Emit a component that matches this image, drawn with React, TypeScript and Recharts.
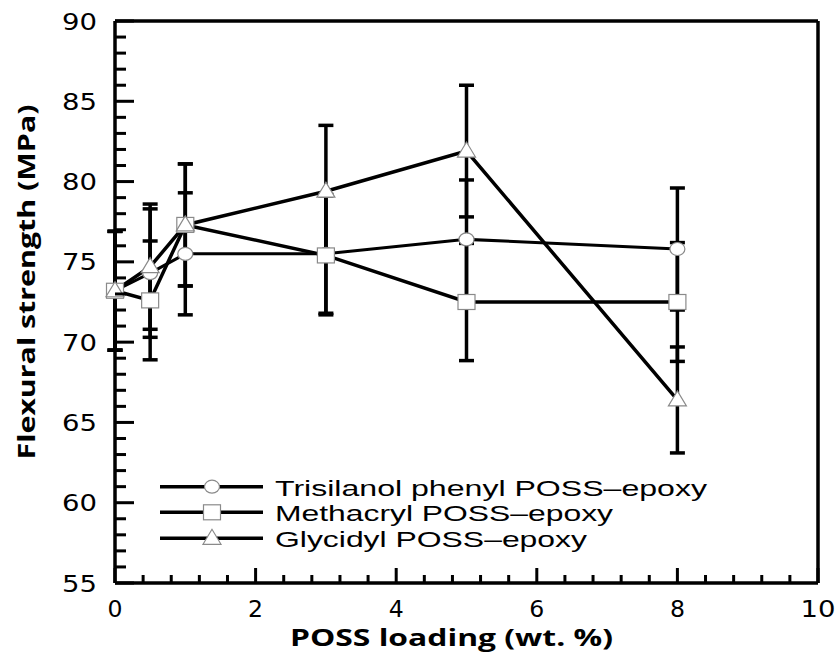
import { LineChart, Line, XAxis, YAxis, ErrorBar, Legend } from 'recharts';

const LOADING = [0, 0.5, 1, 3, 5, 8];

const TRISILANOL = [73.2, 74.3, 75.5, 75.5, 76.4, 75.8];
const TRISILANOL_ERR = [3.7, 4.0, 3.8, 3.7, 3.7, 3.8];
const METHACRYL = [73.2, 72.6, 77.3, 75.4, 72.5, 72.5];
const METHACRYL_ERR = [3.7, 3.7, 3.8, 3.7, 3.65, 3.7];
const GLYCIDYL = [73.2, 74.7, 77.3, 79.4, 81.9, 66.4];
const GLYCIDYL_ERR = [3.7, 3.9, 3.8, 4.1, 4.1, 3.3];

const SERIES_NAMES = ['Trisilanol phenyl POSS\u2013epoxy', 'Methacryl POSS\u2013epoxy', 'Glycidyl POSS\u2013epoxy'];

const X_TICKS = [0, 0.4, 0.8, 1.2, 1.6, 2, 2.4, 2.8, 3.2, 3.6, 4, 4.4, 4.8, 5.2, 5.6, 6, 6.4, 6.8, 7.2, 7.6, 8, 8.4, 8.8, 9.2, 9.6, 10];
const X_LABELS = [0, 2, 4, 6, 8, 10];
const Y_TICKS = [55, 56, 57, 58, 59, 60, 61, 62, 63, 64, 65, 66, 67, 68, 69, 70, 71, 72, 73, 74, 75, 76, 77, 78, 79, 80, 81, 82, 83, 84, 85, 86, 87, 88, 89, 90];
const Y_LABELS = [55, 60, 65, 70, 75, 80, 85, 90];

const rows = (ys: number[], errs: number[]) => LOADING.map((x, i) => ({ x, y: ys[i], err: errs[i] }));
const triData = rows(TRISILANOL, TRISILANOL_ERR);
const metData = rows(METHACRYL, METHACRYL_ERR);
const glyData = rows(GLYCIDYL, GLYCIDYL_ERR);

const NUM_FONT = '"DejaVu Sans", sans-serif';
const TITLE_FONT = '"Open Sans", sans-serif';
const LEGEND_FONT = '"Liberation Sans", Arial, sans-serif';
const MARK_STROKE = '#8a8a8a';

const CircleMark = ({ cx, cy }: any) => (
  <ellipse cx={cx} cy={cy} rx={7.5} ry={6.5} fill="#fff" stroke={MARK_STROKE} strokeWidth={1.2} />
);
const SquareMark = ({ cx, cy }: any) => (
  <rect x={cx - 8.5} y={cy - 7.5} width={17} height={15} fill="#fff" stroke={MARK_STROKE} strokeWidth={1.2} />
);
const TriangleMark = ({ cx, cy }: any) => (
  <polygon points={`${cx},${cy - 9} ${cx - 9},${cy + 6} ${cx + 9},${cy + 6}`} fill="#fff" stroke={MARK_STROKE} strokeWidth={1.2} />
);

const numText = (v: number) => String(v);
const labelLen = (v: number) => (numText(v).length > 1 ? 35 : 15);

// inward tick marks are drawn with the labels
const BottomTick = (props: any) => {
  const { x, y, payload } = props;
  const v = payload?.value;
  const major = X_LABELS.includes(v);
  return (
    <g>
      <rect x={x - 1.5} y={y - (major ? 15 : 8)} width={3} height={major ? 15 : 8} fill="#000" />
      {major && (
        <text x={x} y={y + 34} textAnchor="middle" fontFamily={NUM_FONT} fontSize={23} fill="#000"
          textLength={labelLen(v)} lengthAdjust="spacingAndGlyphs">
          {numText(v)}
        </text>
      )}
    </g>
  );
};

const TopTick = (props: any) => {
  const { x, y, payload } = props;
  const major = X_LABELS.includes(payload?.value);
  return <rect x={x - 1.5} y={y} width={3} height={major ? 14 : 9} fill="#000" />;
};

const LeftTick = (props: any) => {
  const { x, y, payload } = props;
  const v = payload?.value;
  const major = Y_LABELS.includes(v);
  return (
    <g>
      <rect x={x} y={y - 1.5} width={major ? 19 : 11} height={3} fill="#000" />
      {major && (
        <text x={x - 18} y={y + 8.5} textAnchor="end" fontFamily={NUM_FONT} fontSize={23} fill="#000"
          textLength={labelLen(v)} lengthAdjust="spacingAndGlyphs">
          {numText(v)}
        </text>
      )}
    </g>
  );
};

const RightTick = (props: any) => {
  const { x, y, payload } = props;
  const major = Y_LABELS.includes(payload?.value);
  return <rect x={x - (major ? 19 : 11)} y={y - 1.5} width={major ? 19 : 11} height={3} fill="#000" />;
};

const LegendBox = () => {
  const rowsY = [14.7, 40.3, 66.3];
  const lens = [432, 338, 312];
  const marks = [CircleMark, SquareMark, TriangleMark];
  return (
    <svg width={600} height={80} style={{ overflow: 'visible' }}>
      {SERIES_NAMES.map((name, i) => {
        const M = marks[i];
        return (
          <g key={name}>
            <line x1={5} x2={108} y1={rowsY[i]} y2={rowsY[i]} stroke="#000" strokeWidth={3.5} />
            <M cx={57} cy={rowsY[i]} />
            <text x={120} y={rowsY[i] + 9} fontFamily={LEGEND_FONT} fontSize={22} fill="#000"
              textLength={lens[i]} lengthAdjust="spacingAndGlyphs">
              {name}
            </text>
          </g>
        );
      })}
    </svg>
  );
};

const XTitle = () => (
  <text x={451.5} y={646} textAnchor="middle" fontFamily={TITLE_FONT} fontWeight={700} fontSize={23} fill="#000"
    textLength={323} lengthAdjust="spacingAndGlyphs">
    POSS loading (wt. %)
  </text>
);

const YTitle = () => (
  <text x={35} y={282} transform="rotate(-90, 35, 282)" textAnchor="middle" fontFamily={TITLE_FONT} fontWeight={700}
    fontSize={24} fill="#000" textLength={355} lengthAdjust="spacingAndGlyphs">
    Flexural strength (MPa)
  </text>
);

const frame = { stroke: '#000', strokeWidth: 3.5 };

export default function App() {
  const errLine = (data: any[], key: string) => (
    <Line key={key} data={data} dataKey="y" stroke="none" dot={false} activeDot={false} legendType="none" isAnimationActive={false}>
      <ErrorBar dataKey="err" direction="y" width={7.5} stroke="#000" strokeWidth={3.5} isAnimationActive={false} />
    </Line>
  );
  return (
    <div style={{ position: 'absolute', left: 0, top: 0, background: '#fff' }}>
      <LineChart width={837} height={654} margin={{ top: 20, right: 18, bottom: 31, left: 55 }}>
        <XAxis xAxisId={0} dataKey="x" type="number" domain={[0, 10]} ticks={X_TICKS} interval={0}
          height={40} tickSize={0} tickMargin={0} tickLine={false} axisLine={frame}
          tick={(p: any) => <BottomTick {...p} />} label={{ content: () => <XTitle /> }} />
        <XAxis xAxisId="top" orientation="top" type="number" domain={[0, 10]} ticks={X_TICKS} interval={0}
          height={1} tickSize={0} tickMargin={0} tickLine={false} axisLine={frame}
          tick={(p: any) => <TopTick {...p} />} />
        <YAxis yAxisId={0} type="number" domain={[55, 90]} ticks={Y_TICKS} interval={0}
          width={60} tickSize={0} tickMargin={0} tickLine={false} axisLine={frame}
          tick={(p: any) => <LeftTick {...p} />} label={{ content: () => <YTitle /> }} />
        <YAxis yAxisId="right" orientation="right" type="number" domain={[55, 90]} ticks={Y_TICKS} interval={0}
          width={1} tickSize={0} tickMargin={0} tickLine={false} axisLine={frame}
          tick={(p: any) => <RightTick {...p} />} />
        {errLine(triData, 'e1')}
        {errLine(metData, 'e2')}
        {errLine(glyData, 'e3')}
        <Line data={triData} dataKey="y" name={SERIES_NAMES[0]} stroke="#000" strokeWidth={3} isAnimationActive={false}
          activeDot={false} dot={(p: any) => <CircleMark key={`c${p.index}`} cx={p.cx} cy={p.cy} />} />
        <Line data={metData} dataKey="y" name={SERIES_NAMES[1]} stroke="#000" strokeWidth={3.5} isAnimationActive={false}
          activeDot={false} dot={(p: any) => <SquareMark key={`s${p.index}`} cx={p.cx} cy={p.cy} />} />
        <Line data={glyData} dataKey="y" name={SERIES_NAMES[2]} stroke="#000" strokeWidth={3.5} isAnimationActive={false}
          activeDot={false} dot={(p: any) => <TriangleMark key={`t${p.index}`} cx={p.cx} cy={p.cy} />} />
        <Legend layout="horizontal" align="center" verticalAlign="middle" content={() => <LegendBox />}
          wrapperStyle={{ position: 'absolute', left: 155, top: 472, width: 600, height: 80 }} />
      </LineChart>
    </div>
  );
}
